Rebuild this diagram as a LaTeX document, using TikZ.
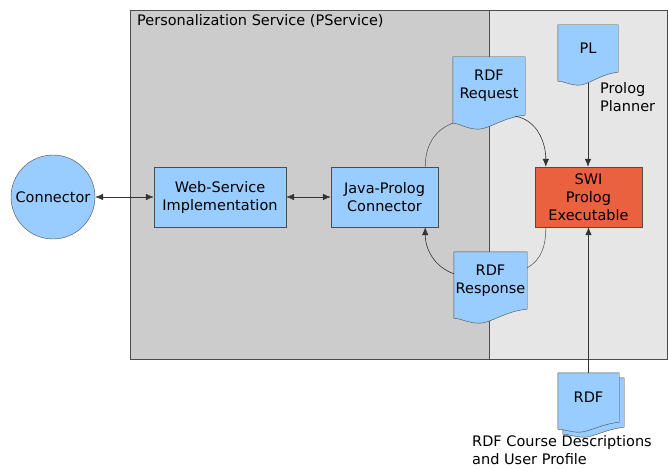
\documentclass[tikz,border=0pt]{standalone}
\usepackage{fontspec}
\setmainfont{DejaVu Sans}
\usepackage{tikz}
\usetikzlibrary{arrows.meta,calc,backgrounds}

\definecolor{boxblue}{HTML}{99CCFF}
\definecolor{swiorange}{HTML}{EA6140}
\definecolor{panelgray}{HTML}{CCCCCC}
\definecolor{panellight}{HTML}{E6E6E6}

\pgfdeclarelayer{docs}
\pgfsetlayers{background,docs,main}

% wavy-bottom document outline round a node: #1 node, #2 drop of left end, #3 depth of dip
\newcommand{\docshape}[3]{%
  \begin{pgfonlayer}{docs}
  \draw[docline] (#1.north west) -- (#1.north east) -- (#1.south east)
    .. controls ($(#1.south east)!0.3!(#1.south west)+(0,-2)$)
       and ($(#1.south east)!0.5!(#1.south west)+(0,-#3)$)
    .. ($(#1.south east)!0.65!(#1.south west)+(0,-#3)$)
    .. controls ($(#1.south east)!0.8!(#1.south west)+(0,-#3)$)
       and ($(#1.south west)+(6,-#2)$)
    .. ($(#1.south west)+(0,-#2)$) -- cycle;
  \end{pgfonlayer}
  \coordinate (#1-wl) at ($(#1.south west)+(0,-#2)$);}

\begin{document}
\begin{tikzpicture}[
  x=1pt, y=1pt,
  font=\fontsize{14.5}{18}\selectfont,
  box/.style={draw=black!70, fill=boxblue, align=center, minimum height=60, inner sep=0},
  doc/.style={align=center, inner sep=0},
  docline/.style={draw=black!70, fill=boxblue},
  arrow/.style={-{Latex[length=8pt,width=6.5pt]}, draw=black!80, line width=0.6pt},
  biarrow/.style={{Latex[length=8pt,width=6.5pt]}-{Latex[length=8pt,width=6.5pt]}, draw=black!80, line width=0.6pt},
  link/.style={draw=black!70, line width=0.5pt}
]
\useasboundingbox (0,0) rectangle (668,469);

% service panels
\begin{scope}[on background layer]
\draw[fill=panelgray, draw=black!70] (130,110) rectangle (489,459);
\draw[fill=panellight, draw=black!70] (489,110) rectangle (667.5,459);
\end{scope}
\node[anchor=north west, inner sep=0] (ps) at (137,455) {Personalization Service (PService)};

\node[draw=black!70, fill=boxblue, circle, minimum size=84, inner sep=0] (conn) at (53,272) {Connector};
\node[box, minimum width=132] (web) at (220,272) {Web-Service\\Implementation};
\node[box, minimum width=107] (jpc) at (384.5,272) {Java-Prolog\\Connector};
\node[box, minimum width=107, fill=swiorange] (swi) at (588.5,272) {SWI\\Prolog\\Executable};

% documents
\node[doc, minimum width=72, minimum height=58] (req) at (489,383) {RDF\\Request};
\docshape{req}{8}{14}
\node[doc, minimum width=60, minimum height=47] (pl) at (588,420.5) {PL};
\docshape{pl}{9}{13}
\node[anchor=north west, align=left, inner sep=0] (plan) at (600,387) {Prolog\\Planner};
\node[doc, minimum width=73, minimum height=57] (res) at (490.5,188.5) {RDF\\Response};
\docshape{res}{9}{14}

\node[doc, minimum width=61, minimum height=49] (rdfback) at (593.5,66.5) {};
\docshape{rdfback}{7}{10}
\node[doc, minimum width=61, minimum height=49] (rdf) at (588.5,71.5) {RDF};
\docshape{rdf}{7}{10}
\node[anchor=north west, align=left, inner sep=0] (rdfnote) at (472,34) {RDF Course Descriptions\\and User Profile};

% connectors
\draw[biarrow] (conn) -- (web);
\draw[biarrow] (web) -- (jpc);
\draw[link] ($(jpc.north east)+(-13,0)$) to[out=90, in=200] (req-wl);
\draw[arrow] ($(req.south east)+(-10,-1)$) to[out=-10, in=90] ($(swi.north west)+(11,0)$);
\draw[arrow] ($(pl.south)+(0,-11)$) -- (swi.north -| pl.south);
\draw[link] ($(swi.south west)+(11,0)$) to[out=-90, in=30] ($(res.north east)+(0,-16)$);
\draw[arrow] ($(res.north west)+(0,-22)$) to[out=160, in=-90] ($(jpc.south east)+(-13,0)$);
\draw[arrow] (rdf.north) -- (swi.south -| rdf.north);
\end{tikzpicture}
\end{document}
